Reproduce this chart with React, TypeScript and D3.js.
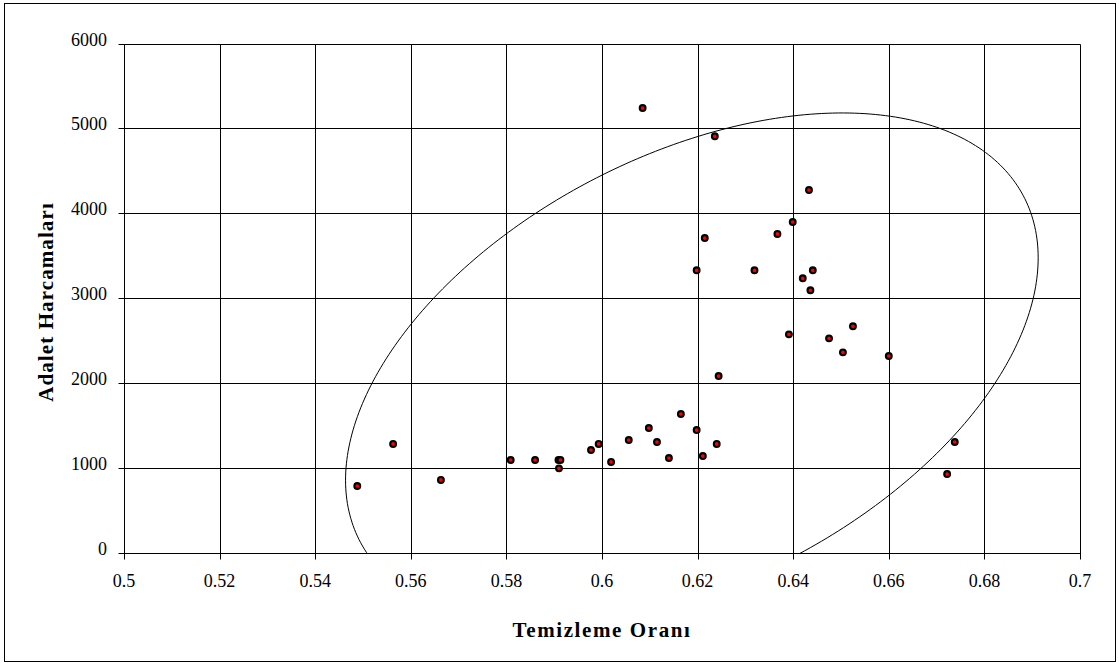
import React, { useEffect, useRef } from "react";
import * as d3 from "d3";

// tick values and their labels
const xTicks = [0.5, 0.52, 0.54, 0.56, 0.58, 0.6, 0.62, 0.64, 0.66, 0.68, 0.7];
const xTickLabels = ["0.5", "0.52", "0.54", "0.56", "0.58", "0.6", "0.62", "0.64", "0.66", "0.68", "0.7"];
const yTicks = [0, 1000, 2000, 3000, 4000, 5000, 6000];
const yTickLabels = ["0", "1000", "2000", "3000", "4000", "5000", "6000"];

// Temizleme Oranı (x) and Adalet Harcamaları (y)
const temizleme = [
  0.5488, 0.5563, 0.5663, 0.5809, 0.586, 0.5909, 0.5913, 0.591, 0.5977, 0.5993,
  0.6019, 0.6056, 0.6098, 0.6115, 0.614, 0.6165, 0.6198, 0.6211, 0.624, 0.6085,
  0.6236, 0.6433, 0.6399, 0.6367, 0.6215, 0.6198, 0.6319, 0.6441, 0.642, 0.6436,
  0.6391, 0.6475, 0.6525, 0.6504, 0.66, 0.6244, 0.6738, 0.6722,
];
const harcama = [
  789, 1284, 860, 1095, 1095, 1095, 1095, 997, 1213, 1284,
  1072, 1331, 1472, 1307, 1119, 1637, 1448, 1142, 1284, 5240,
  4907, 4275, 3898, 3757, 3709, 3329, 3329, 3329, 3235, 3094,
  2575, 2528, 2670, 2363, 2320, 2084, 1307, 930,
];

// confidence ellipse: centre, half extents, phase between x and y
const ellipseCenter = [0.6188, 2167];
const ellipseRadius = [0.07245, 3015];
const ellipsePhase = 2.02;

const W = 1119;
const H = 663;

export default function App() {
  const ref = useRef<SVGSVGElement | null>(null);

  useEffect(() => {
    document.body.style.margin = "0";
    const svg = d3.select(ref.current);
    svg.selectAll("*").remove();

    const x = d3.scaleLinear().domain([0.5, 0.7]).range([124, 1080]);
    const y = d3.scaleLinear().domain([0, 6000]).range([553, 43.5]);
    const px = (v: number) => Math.round(x(v)) + 0.5;
    const py = (v: number) => Math.round(y(v)) + 0.5;
    const font = "Liberation Serif, Times New Roman, serif";

    svg
      .append("rect")
      .attr("x", 4.5)
      .attr("y", 3.5)
      .attr("width", 1111)
      .attr("height", 658)
      .attr("fill", "white")
      .attr("stroke", "#000")
      .attr("stroke-width", 1);

    svg
      .append("clipPath")
      .attr("id", "plot")
      .append("rect")
      .attr("x", x(0.5))
      .attr("y", y(6000))
      .attr("width", x(0.7) - x(0.5))
      .attr("height", y(0) - y(6000));

    // grid
    svg
      .selectAll("line.gx")
      .data(xTicks)
      .join("line")
      .attr("class", "gx")
      .attr("x1", d => px(d))
      .attr("x2", d => px(d))
      .attr("y1", py(6000))
      .attr("y2", py(0) + 6)
      .attr("stroke", "#000")
      .attr("stroke-width", 1);

    svg
      .selectAll("line.gy")
      .data(yTicks)
      .join("line")
      .attr("class", "gy")
      .attr("x1", px(0.5) - 6)
      .attr("x2", px(0.7))
      .attr("y1", d => py(d))
      .attr("y2", d => py(d))
      .attr("stroke", "#000")
      .attr("stroke-width", 1);

    // tick labels
    svg
      .selectAll("text.tx")
      .data(xTicks)
      .join("text")
      .attr("class", "tx")
      .attr("x", d => x(d))
      .attr("y", 587)
      .attr("text-anchor", "middle")
      .attr("font-family", font)
      .attr("font-size", 18)
      .text((d, i) => xTickLabels[i]);

    svg
      .selectAll("text.ty")
      .data(yTicks)
      .join("text")
      .attr("class", "ty")
      .attr("x", 107)
      .attr("y", d => y(d) + 2)
      .attr("text-anchor", "end")
      .attr("font-family", font)
      .attr("font-size", 18)
      .text((d, i) => yTickLabels[i]);

    // ellipse
    const ts = d3.range(0, 361).map(a => (a * Math.PI) / 180);
    const ellipse = d3
      .line<number>()
      .x(t => x(ellipseCenter[0] + ellipseRadius[0] * Math.cos(t)))
      .y(t => y(ellipseCenter[1] - ellipseRadius[1] * Math.cos(t - ellipsePhase)));

    svg
      .append("path")
      .attr("d", ellipse(ts))
      .attr("clip-path", "url(#plot)")
      .attr("fill", "none")
      .attr("stroke", "#000")
      .attr("stroke-width", 1);

    // points
    svg
      .selectAll("circle")
      .data(temizleme)
      .join("circle")
      .attr("cx", d => x(d))
      .attr("cy", (d, i) => y(harcama[i]))
      .attr("r", 2.9)
      .attr("fill", "#ff0000")
      .attr("stroke", "#000")
      .attr("stroke-width", 2.1);

    // axis titles
    svg
      .append("text")
      .attr("x", (x(0.5) + x(0.7)) / 2)
      .attr("y", 637)
      .attr("text-anchor", "middle")
      .attr("font-family", font)
      .attr("font-weight", "bold")
      .attr("font-size", 21)
      .attr("letter-spacing", 1.6)
      .text("Temizleme Oranı");

    svg
      .append("text")
      .attr("transform", "translate(53,302) rotate(-90)")
      .attr("text-anchor", "middle")
      .attr("font-family", font)
      .attr("font-weight", "bold")
      .attr("font-size", 21)
      .attr("letter-spacing", 1.1)
      .text("Adalet Harcamaları");
  }, []);

  return <svg ref={ref} width={W} height={H} style={{ display: "block" }} />;
}
